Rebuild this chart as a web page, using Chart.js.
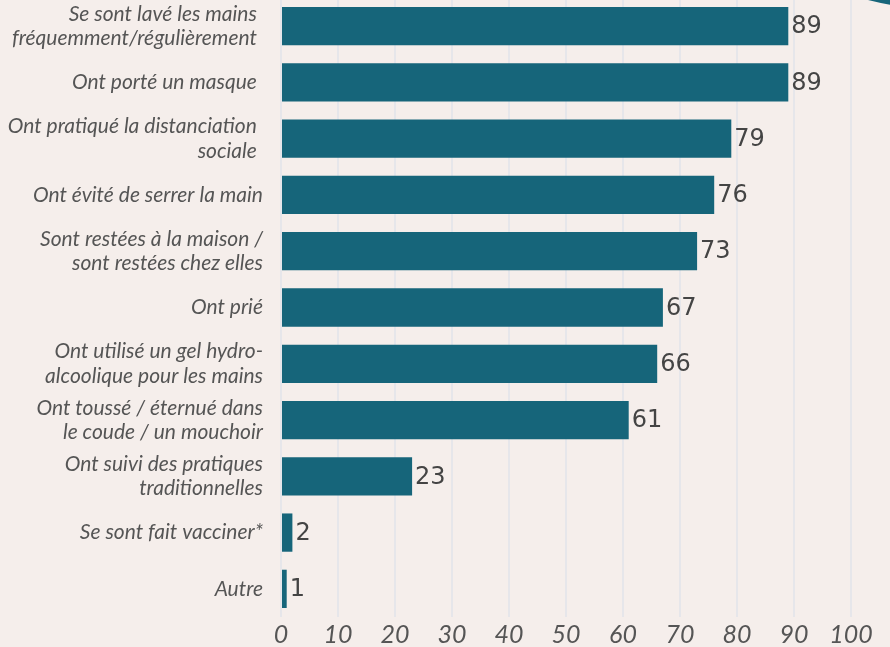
<!DOCTYPE html>
<html>
<head>
<meta charset="utf-8">
<script src="https://cdn.jsdelivr.net/npm/chart.js@4/dist/chart.umd.min.js"></script>
<style>
  html, body { margin: 0; padding: 0; background: #f5eeeb; overflow: hidden; }
  #wrap { position: absolute; left: 0; top: -2px; width: 890px; height: 649px; }
</style>
</head>
<body>
<div id="wrap"><canvas id="c" width="890" height="649"></canvas></div>
<script>
const categories = [
  ["Se sont lavé les mains \u200A", "fréquemment/régulièrement \u200A"],
  ["Ont porté un masque \u200A"],
  ["Ont pratiqué la distanciation \u200A", "sociale \u200A"],
  ["Ont évité de serrer la main"],
  ["Sont restées à la maison /", "sont restées chez elles"],
  ["Ont prié"],
  ["Ont utilisé un gel hydro-", "alcoolique pour les mains"],
  ["Ont toussé / éternué dans", "le coude / un mouchoir"],
  ["Ont suivi des pratiques", "traditionnelles"],
  ["Se sont fait vacciner*"],
  ["Autre"]
];
const values = [89, 89, 79, 76, 73, 67, 66, 61, 23, 2, 1];
const xTicks = [0, 10, 20, 30, 40, 50, 60, 70, 80, 90, 100];

const valueLabels = {
  id: 'valueLabels',
  afterDatasetsDraw(chart) {
    const ctx = chart.ctx;
    const meta = chart.getDatasetMeta(0);
    ctx.save();
    ctx.font = '24px "DejaVu Sans"';
    ctx.fillStyle = '#444444';
    ctx.textAlign = 'left';
    ctx.textBaseline = 'middle';
    meta.data.forEach((bar, i) => {
      ctx.fillText(String(values[i]), bar.x + 3, bar.y + 1);
    });
    ctx.restore();
  }
};

const deco = {
  id: 'deco',
  afterDraw(chart) {
    const ctx = chart.ctx;
    ctx.save();
    ctx.fillStyle = '#16657a';
    ctx.beginPath();
    ctx.moveTo(868, 2);
    ctx.quadraticCurveTo(880, 5, 891, 7);
    ctx.lineTo(891, 0);
    ctx.lineTo(868, 0);
    ctx.closePath();
    ctx.fill();
    ctx.restore();
  }
};

new Chart(document.getElementById('c'), {
  type: 'bar',
  data: {
    labels: categories,
    datasets: [{
      data: values,
      backgroundColor: '#16657a',
      borderWidth: 0,
      barPercentage: 0.68,
      categoryPercentage: 1.0
    }]
  },
  options: {
    indexAxis: 'y',
    responsive: false,
    animation: false,
    layout: { padding: { left: 0, right: 39, top: 0, bottom: 0 } },
    plugins: { legend: { display: false }, tooltip: { enabled: false } },
    scales: {
      x: {
        min: 0,
        max: 100,
        afterBuildTicks(scale) { scale.ticks = xTicks.map(v => ({ value: v })); },
        afterFit(scale) { scale.height = 30; scale.paddingLeft = 0; scale.paddingRight = 0; },
        grid: { color: '#e6e6ea', lineWidth: 2, drawTicks: false },
        border: { display: false },
        ticks: {
          padding: 5,
          color: '#555555',
          font: { family: 'Lato', style: 'italic', size: 25, lineHeight: 1.0 }
        }
      },
      y: {
        afterFit(scale) { scale.width = 281; scale.paddingTop = 0; scale.paddingBottom = 0; },
        grid: { display: false, drawTicks: false },
        border: { display: false },
        ticks: {
          padding: 18,
          color: '#555555',
          font: { family: 'Lato', style: 'italic', size: 21, lineHeight: 1.15 }
        }
      }
    }
  },
  plugins: [valueLabels, deco]
});
</script>
</body>
</html>
